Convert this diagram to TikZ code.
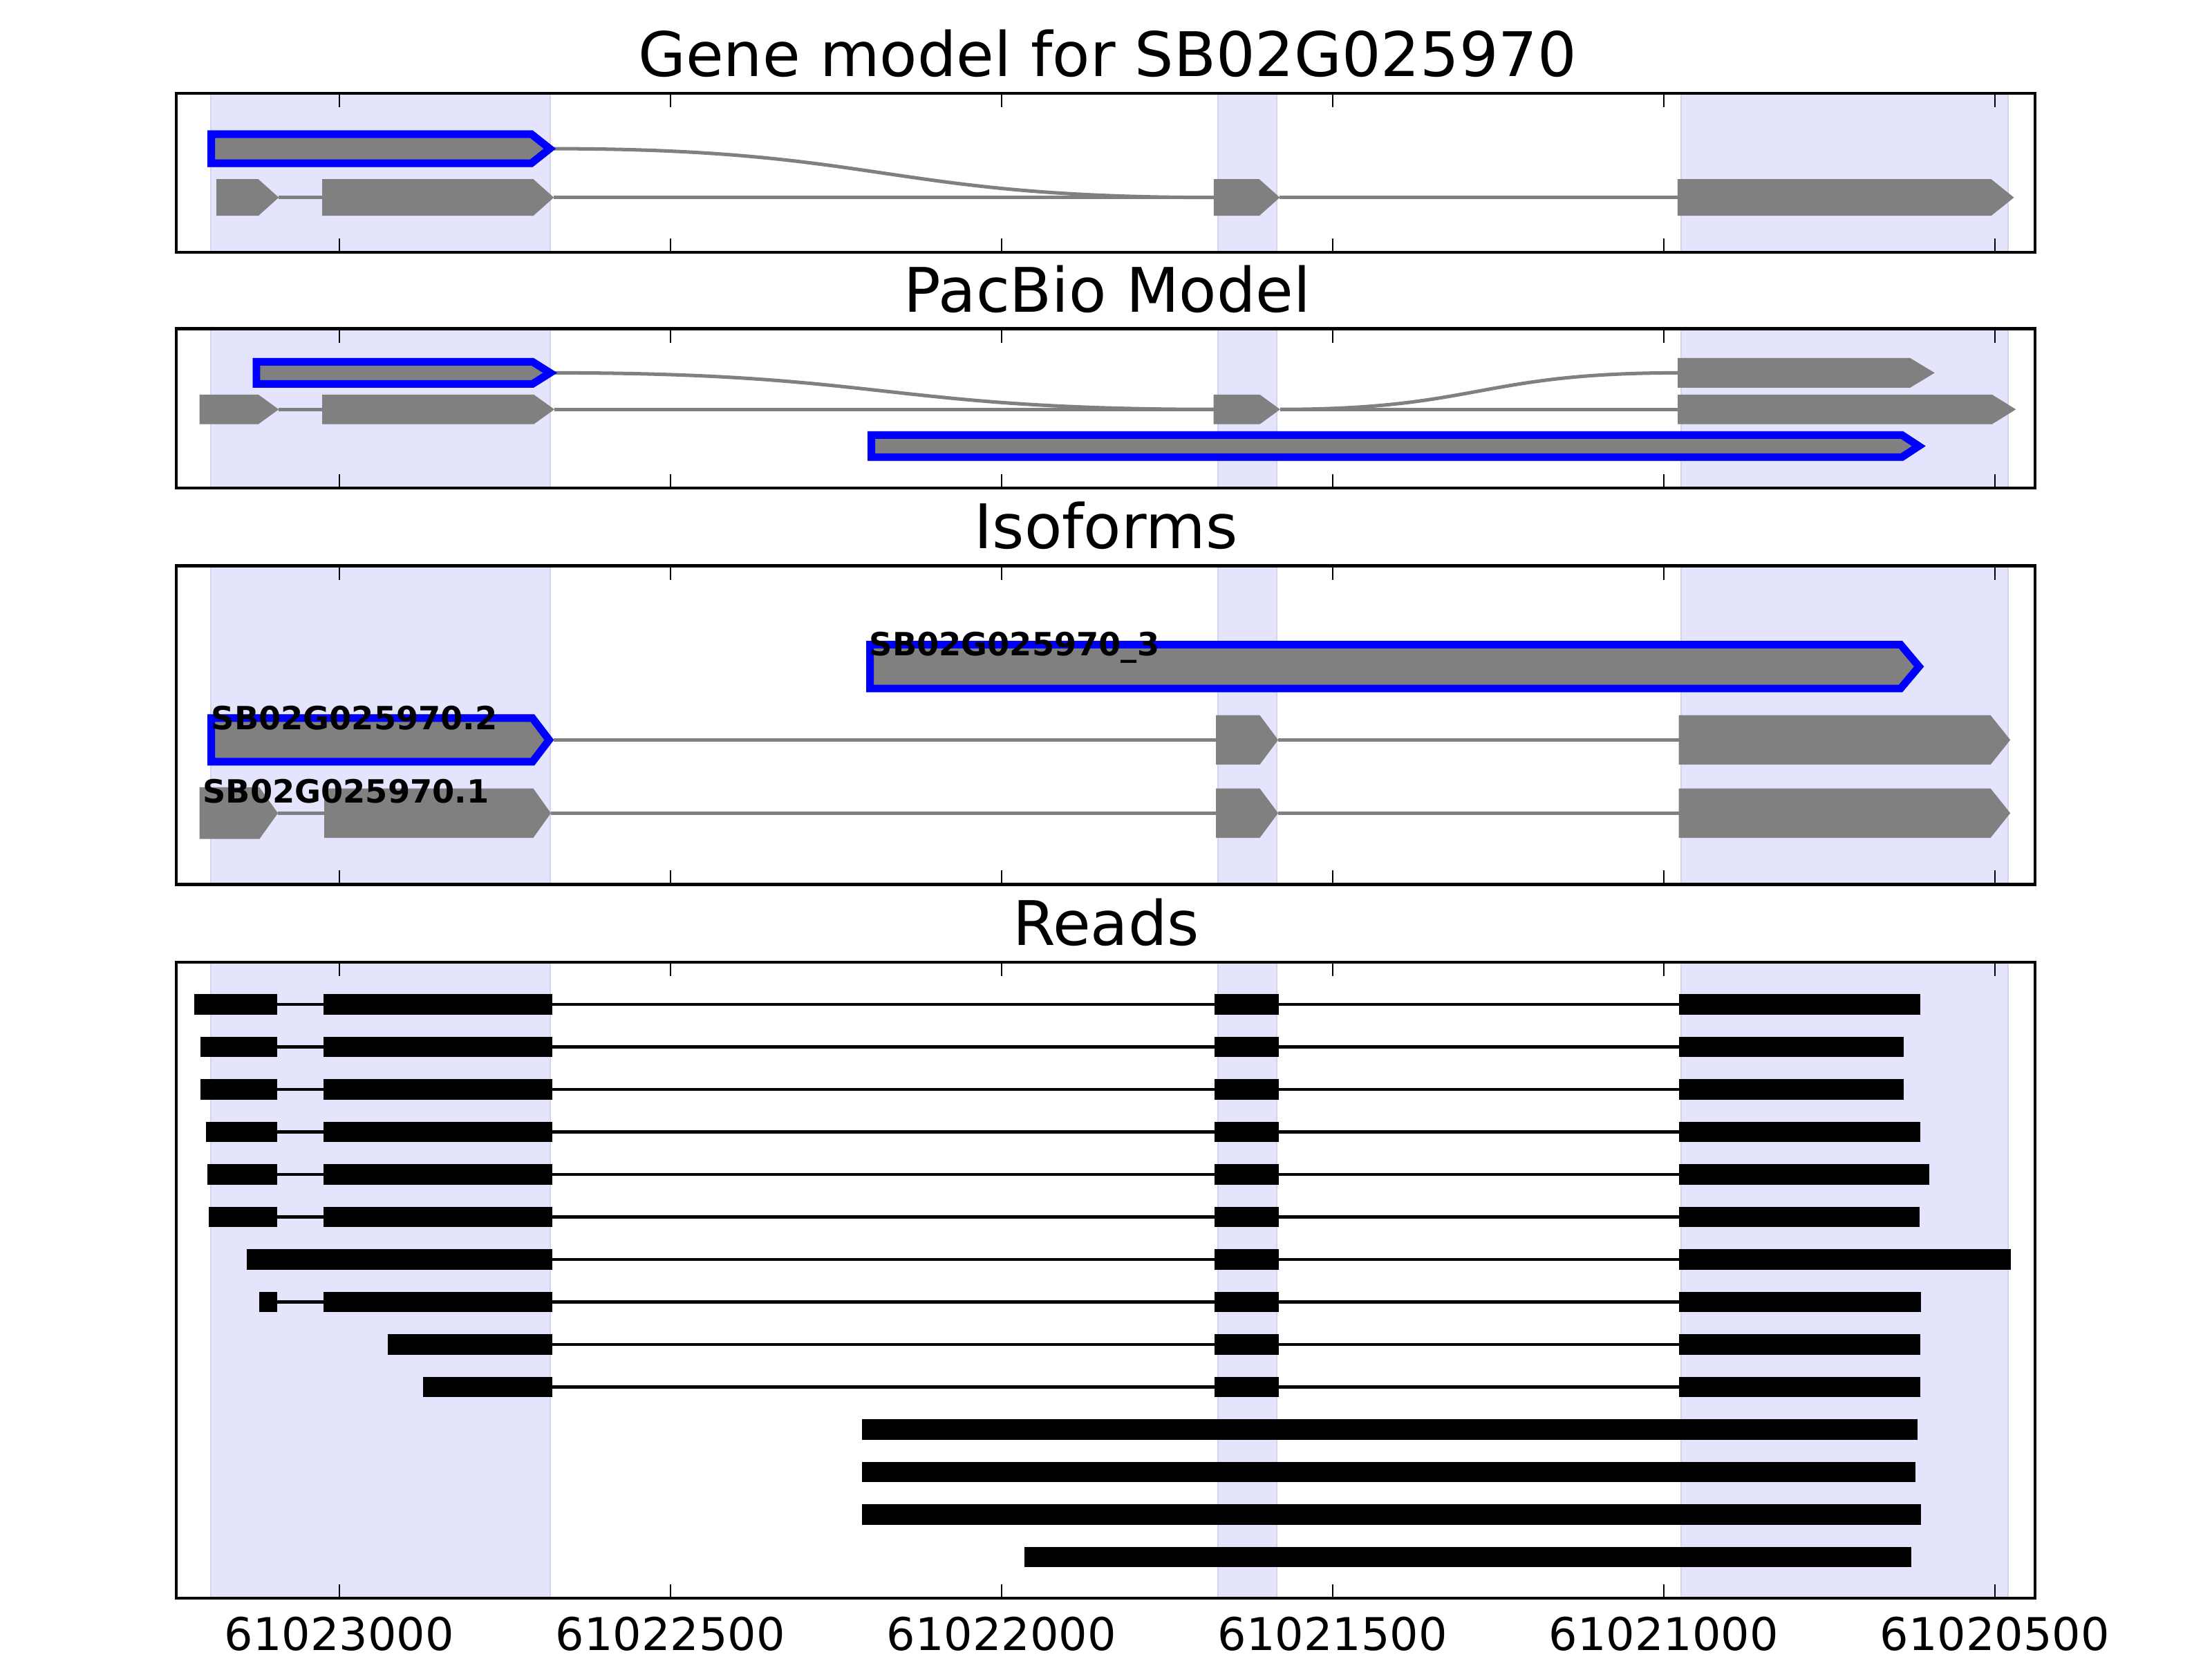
\documentclass[tikz,border=0pt]{standalone}
\usepackage{fontspec}
\setmainfont{DejaVu Sans}
\definecolor{gm}{HTML}{808080}
\definecolor{shadefill}{RGB}{228,228,252}
\definecolor{shadeedge}{RGB}{212,212,236}
\newcommand{\exonpath}[5]{(#1,{#4-#5}) -- (#2,{#4-#5}) -- (#3,#4) -- (#2,{#4+#5}) -- (#1,{#4+#5}) -- cycle}
\newcommand{\gexon}[5]{\fill[gm] \exonpath{#1}{#2}{#3}{#4}{#5};}
\newcommand{\bexon}[5]{\begin{scope}\clip \exonpath{#1}{#2}{#3}{#4}{#5};
  \fill[gm] \exonpath{#1}{#2}{#3}{#4}{#5};
  \draw[blue, line width=6.1pt, line join=miter] \exonpath{#1}{#2}{#3}{#4}{#5};\end{scope}}
\newcommand{\rblock}[3]{\fill[black] (#1,{#3-7.2}) rectangle (#2,{#3+7.2});}
\newcommand{\shadepanel}[2]{\foreach \sa/\sb in {149.6/390,863.4/904.9,1191.8/1423.4}{\filldraw[fill=shadefill,draw=shadeedge,line width=0.6pt] (\sa,#1) rectangle (\sb,#2);}}
\newcommand{\framepanel}[2]{\draw[line width=1.2pt] (125,#1) rectangle (1442.5,#2);
  \foreach \tk in {240.6,475.3,710.0,944.7,1179.4,1414.1}{\draw[line width=0.6pt] (\tk,#1) -- ++(0,10); \draw[line width=0.6pt] (\tk,#2) -- ++(0,-10);}}
\tikzset{
  titletext/.style={font=\fontsize{24.8}{28}\selectfont, anchor=base, inner sep=0pt},
  ticktext/.style={font=\fontsize{18.2}{21}\selectfont, anchor=base, inner sep=0pt},
  isolabel/.style={font=\fontsize{12.9}{15}\selectfont\bfseries, anchor=base west, inner sep=0pt},
  gline/.style={gm, line width=1.4pt},
  rline/.style={black, line width=1.2pt}
}
\begin{document}
\begin{tikzpicture}[x=0.02cm,y=-0.02cm]
\useasboundingbox (0,0) rectangle (1568,1176);
\fill[white] (0,0) rectangle (1568,1176);

% ---------------- Panel 1: Gene model ----------------
\shadepanel{66}{179}
\node[titletext] (t1) at (785,54) {Gene model for SB02G025970};
\draw[gline] (392,105.4) .. controls (626,105.4) and (626,140) .. (860.4,140);
\draw[gline] (197.6,140) -- (228.4,140);
\draw[gline] (392.6,140) -- (860.4,140);
\draw[gline] (907.2,140) -- (1189.2,140);
\bexon{147.1}{377.6}{394}{105.4}{13}
\gexon{153.4}{183.1}{197.6}{140}{13}
\gexon{228.4}{378}{392.6}{140}{13}
\gexon{860.4}{892.6}{907.2}{140}{13}
\gexon{1189.2}{1411.4}{1427.6}{140}{13}
\framepanel{66}{179}

% ---------------- Panel 2: PacBio ----------------
\shadepanel{233}{346}
\node[titletext] (t2) at (785,221) {PacBio Model};
\draw[gline] (393,264.3) .. controls (627,264.3) and (627,290.2) .. (860.2,290.2);
\draw[gline] (907.4,290.2) .. controls (1048,290.2) and (1048,264.3) .. (1189.3,264.3);
\draw[gline] (197.6,290.2) -- (228.4,290.2);
\draw[gline] (393,290.2) -- (860.2,290.2);
\draw[gline] (907.4,290.2) -- (1189.3,290.2);
\bexon{179.1}{378.3}{395}{264.3}{10.5}
\gexon{1189.3}{1354}{1371.4}{264.3}{10.5}
\gexon{141.4}{183.1}{197.6}{290.2}{10.5}
\gexon{228.4}{378.3}{393}{290.2}{10.5}
\gexon{860.2}{893}{907.4}{290.2}{10.5}
\gexon{1189.3}{1412}{1429}{290.2}{10.5}
\bexon{615}{1349}{1365}{316.2}{10.5}
\framepanel{233}{346}

% ---------------- Panel 3: Isoforms ----------------
\shadepanel{401}{627}
\node[titletext] (t3) at (784,389) {Isoforms};
\bexon{614}{1348.5}{1363.8}{472.5}{18.2}
\draw[gline] (392.6,524.5) -- (862,524.5);
\draw[gline] (906,524.5) -- (1190,524.5);
\bexon{147.1}{378.8}{392.6}{524.5}{18.1}
\gexon{862}{893}{906}{524.5}{17.5}
\gexon{1190}{1411}{1425}{524.5}{17.5}
\draw[gline] (197,576.4) -- (229.9,576.4);
\draw[gline] (390.5,576.4) -- (862,576.4);
\draw[gline] (906,576.4) -- (1190,576.4);
\gexon{141.4}{183.9}{197}{576.4}{18.3}
\gexon{229.9}{378}{390.5}{576.4}{17.5}
\gexon{862}{893}{906}{576.4}{17.5}
\gexon{1190}{1411}{1425}{576.4}{17.5}
\node[isolabel] (i3) at (616,464.6) {SB02G025970\_3};
\node[isolabel] (i2) at (149.5,517) {SB02G025970.2};
\node[isolabel] (i1) at (143.5,568.9) {SB02G025970.1};
\framepanel{401}{627}

% ---------------- Panel 4: Reads ----------------
\shadepanel{682}{1133}
\node[titletext] (t4) at (784,670) {Reads};
\foreach \r/\sa/\eb in {0/137.6/1361.2,1/142.1/1349.3,2/142.1/1349.3,3/145.9/1361.2,4/146.8/1367.5,5/147.8/1360.5,7/183.6/1361.6}{
  \pgfmathsetmacro{\yy}{712+30.13*\r}
  \draw[rline] (196.3,\yy) -- (1190.2,\yy);
  \rblock{\sa}{196.3}{\yy}
  \rblock{229.3}{391.4}{\yy}
  \rblock{861}{906.3}{\yy}
  \rblock{1190.2}{\eb}{\yy}
}
\foreach \r/\sa/\eb in {6/175.1/1425.3,8/275.1/1361.2,9/299.8/1361.2}{
  \pgfmathsetmacro{\yy}{712+30.13*\r}
  \draw[rline] (391.4,\yy) -- (1190.2,\yy);
  \rblock{\sa}{391.4}{\yy}
  \rblock{861}{906.3}{\yy}
  \rblock{1190.2}{\eb}{\yy}
}
\foreach \r/\sa/\eb in {10/611/1359.3,11/611/1357.8,12/611/1361.6,13/726/1354.9}{
  \pgfmathsetmacro{\yy}{712+30.13*\r}
  \rblock{\sa}{\eb}{\yy}
}
\framepanel{682}{1133}

% ---------------- x-axis labels ----------------
\node[ticktext] (l1) at (240.6,1170) {61023000};
\node[ticktext] (l2) at (475.3,1170) {61022500};
\node[ticktext] (l3) at (710.0,1170) {61022000};
\node[ticktext] (l4) at (944.7,1170) {61021500};
\node[ticktext] (l5) at (1179.4,1170) {61021000};
\node[ticktext] (l6) at (1414.1,1170) {61020500};
\end{tikzpicture}
\end{document}
